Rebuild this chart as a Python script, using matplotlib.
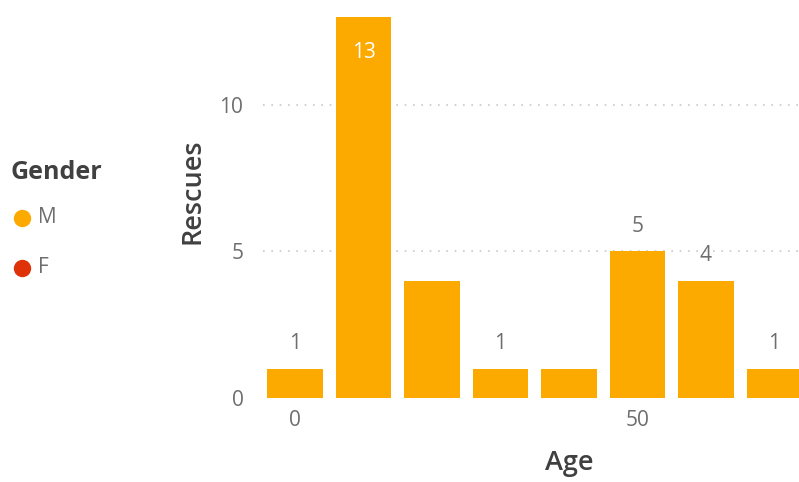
import matplotlib.pyplot as plt
from matplotlib.lines import Line2D

# age bins (lower edge), rescue counts for M
ages     = [0, 10, 20, 30, 40, 50, 60, 70]
rescues  = [1, 13, 4, 1, 1, 5, 4, 1]
# Power BI hides some labels; which ones show
show_lbl = [True, True, False, True, False, True, True, True]
genders  = ["M", "F"]
y_ticks  = [0, 5, 10]
x_ticks  = [0, 50]

ORANGE = "#FDAA00"
RED    = "#DF3209"
GREY   = "#6E6E6E"
DARK   = "#404040"

plt.rcParams["font.family"] = ["Open Sans", "DejaVu Sans"]

fig = plt.figure(figsize=(7.99, 4.82), dpi=100)
ax = fig.add_axes([0.329, 0.1743, 0.671, 0.8257])

ax.bar(ages, rescues, width=8.1, color=ORANGE, zorder=2)
ax.set_xlim(-4.7, 73.6)
ax.set_ylim(0, 13.58)

for a, v, s in zip(ages, rescues, show_lbl):
    if not s:
        continue
    if v >= 10:
        ax.text(a, v - 1.2, str(v), ha="center", va="center", color="white", fontsize=15)
    else:
        ax.text(a, v + 0.85, str(v), ha="center", va="center", color=GREY, fontsize=15)

for y in y_ticks[1:]:
    ax.axhline(y, color="#C8C8C8", linestyle=(0, (1, 4)), linewidth=1.2, zorder=1)

ax.set_yticks(y_ticks)
ax.set_xticks(x_ticks)
ax.tick_params(length=0, labelsize=15, labelcolor=GREY)
ax.tick_params(axis="y", pad=14)
ax.tick_params(axis="x", pad=9)
for sp in ax.spines.values():
    sp.set_visible(False)

fig.text(0.241, 0.604, "Rescues", rotation=90, fontsize=19.5, color=DARK,
         fontweight="semibold", ha="center", va="center")
fig.text(0.712, 0.040, "Age", fontsize=19.5, color=DARK,
         fontweight="semibold", ha="center", va="center")

# legend on the left
fig.text(0.013, 0.643, "Gender", fontsize=18, color=DARK, fontweight="bold", va="center")
for i, (g, c) in enumerate(zip(genders, [ORANGE, RED])):
    yy = 0.548 - i * 0.104
    fig.add_artist(Line2D([0.028], [yy], marker="o", markersize=11.5, color=c,
                          transform=fig.transFigure))
    fig.text(0.047, yy, g, fontsize=15, color=GREY, va="center")

fig.savefig("out.png", dpi=100)
